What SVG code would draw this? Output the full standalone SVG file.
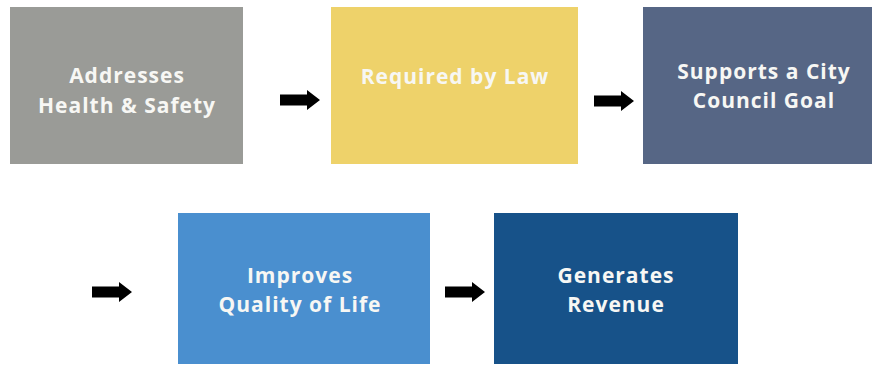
<svg xmlns="http://www.w3.org/2000/svg" xmlns:xlink="http://www.w3.org/1999/xlink" width="872" height="366" viewBox="0 0 872 366">
<style>
.lbl{font-family:"Open Sans","Liberation Sans",sans-serif;font-weight:700;font-size:21px;letter-spacing:1px;fill:#f7f7f4;text-anchor:middle}
.arr{fill:#000}
</style>
<defs>
<path id="arrow" d="M0,-5.5 H27 V-10 L40,0 L27,10 V5.5 H0 Z"/>
</defs>
<rect width="872" height="366" fill="#ffffff"/>
<g id="n1">
<rect x="10" y="7" width="233" height="157" fill="#9a9b97"/>
<text class="lbl" x="127" y="83">Addresses</text>
<text class="lbl" x="127" y="113">Health &amp; Safety</text>
</g>
<g id="n2">
<rect x="331" y="7" width="247" height="157" fill="#eed26a"/>
<text class="lbl" x="455" y="84">Required by Law</text>
</g>
<g id="n3">
<rect x="643" y="7" width="229" height="157" fill="#566685"/>
<text class="lbl" x="764" y="79">Supports a City</text>
<text class="lbl" x="764" y="108">Council Goal</text>
</g>
<g id="n4">
<rect x="178" y="213" width="252" height="151" fill="#4a8fcf"/>
<text class="lbl" x="300" y="283">Improves</text>
<text class="lbl" x="300" y="312">Quality of Life</text>
</g>
<g id="n5">
<rect x="494" y="213" width="244" height="151" fill="#175289"/>
<text class="lbl" x="616" y="283">Generates</text>
<text class="lbl" x="616" y="312">Revenue</text>
</g>
<g id="connectors" class="arr">
<use xlink:href="#arrow" transform="translate(280,100)"/>
<use xlink:href="#arrow" transform="translate(594,101)"/>
<use xlink:href="#arrow" transform="translate(92,292)"/>
<use xlink:href="#arrow" transform="translate(445,292)"/>
</g>
</svg>
